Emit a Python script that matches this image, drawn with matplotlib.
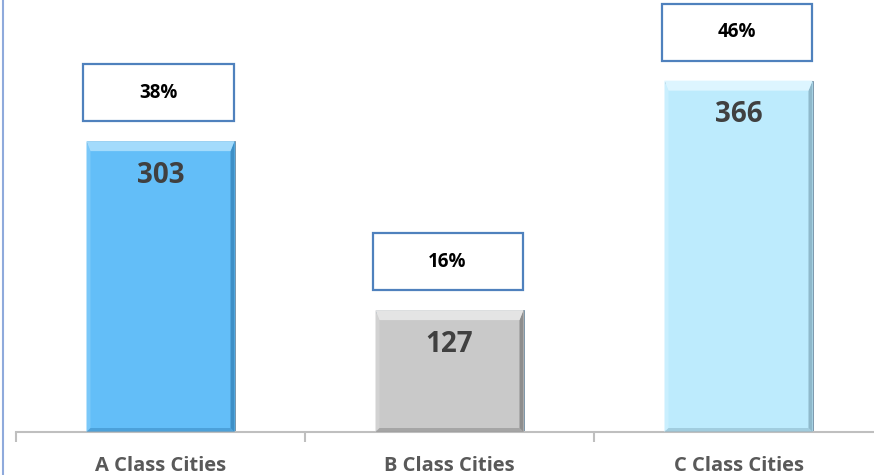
import matplotlib.pyplot as plt
from matplotlib.patches import Rectangle, Polygon
from matplotlib.lines import Line2D

categories = ["A Class Cities", "B Class Cities", "C Class Cities"]
counts = [303, 127, 366]
shares = ["38%", "16%", "46%"]

bar_colors = ["#63BEF8", "#C9C9C9", "#BDEBFD"]
top_colors = ["#A3DBFC", "#E4E4E4", "#DDF5FF"]
side_colors = ["#3E8FC6", "#8E8E8E", "#8FB9CB"]
left_colors = ["#7AC8F9", "#D2D2D2", "#CAEFFE"]

plt.rcParams["font.family"] = ["Open Sans", "DejaVu Sans"]

W, H = 874, 475
fig = plt.figure(figsize=(W / 100, H / 100), dpi=100)
ax = fig.add_axes([16 / W, 43 / H, 867 / W, 432 / H])
ax.set_xlim(-0.5, 2.5)
ax.set_ylim(0, 450)

# pixel -> data conversion
sx = 3 / 867
sy = 450 / 432

bar_w = 148 * sx
xs = range(len(categories))
ax.bar(xs, counts, width=bar_w, color=bar_colors, edgecolor="#6d8aa0", linewidth=0.6, zorder=2)

for i, (c, s) in enumerate(zip(counts, shares)):
    x0, x1 = i - bar_w / 2, i + bar_w / 2
    tb, sb = 10, 4
    # right side bevel
    ax.add_patch(Polygon([(x1, c), (x1, 0), (x1 - sb * sx, sb * sy), (x1 - sb * sx, c - tb * sy)],
                         closed=True, facecolor=side_colors[i], edgecolor="none", zorder=3))
    # left side bevel
    ax.add_patch(Polygon([(x0, c), (x0, 0), (x0 + sb * sx, sb * sy), (x0 + sb * sx, c - tb * sy)],
                         closed=True, facecolor=left_colors[i], edgecolor="none", zorder=3))
    # bottom bevel
    ax.add_patch(Polygon([(x0, 0), (x1, 0), (x1 - sb * sx, sb * sy), (x0 + sb * sx, sb * sy)],
                         closed=True, facecolor=side_colors[i], edgecolor="none", alpha=0.6, zorder=3))
    # top bevel
    ax.add_patch(Polygon([(x0, c), (x1, c), (x1 - sb * sx, c - tb * sy), (x0 + sb * sx, c - tb * sy)],
                         closed=True, facecolor=top_colors[i], edgecolor="none", zorder=3))
    # value label
    ax.text(i, c - 34 * sy, str(c), ha="center", va="center", fontsize=20,
            fontweight="bold", color="#404040", zorder=4)
    # percentage box
    bw, bh, gap = 150 * sx, 57 * sy, 20 * sy
    ax.add_patch(Rectangle((i - bw / 2 - 2 * sx, c + gap), bw, bh, facecolor="white",
                           edgecolor="#4F81BD", linewidth=1.6, zorder=4))
    ax.text(i - 2 * sx, c + gap + bh / 2, s, ha="center", va="center", fontsize=13.5,
            fontweight="bold", color="black", zorder=5)

for side in ["top", "right", "left"]:
    ax.spines[side].set_visible(False)
ax.spines["bottom"].set_color("#BFBFBF")
ax.spines["bottom"].set_linewidth(1.5)
ax.set_yticks([])
ax.set_xticks(list(xs))
ax.set_xticklabels(categories, fontsize=14.5, fontweight="bold", color="#595959")
ax.tick_params(axis="x", which="major", length=0, pad=17)
ax.set_xticks([-0.5, 0.5, 1.5, 2.5], minor=True)
ax.tick_params(axis="x", which="minor", length=7, width=1.5, color="#BFBFBF", direction="out")

fig.add_artist(Line2D([2.5 / W, 2.5 / W], [0, 1], transform=fig.transFigure,
                      color="#8FAADC", linewidth=1.5))

fig.savefig("out.png", dpi=100)
